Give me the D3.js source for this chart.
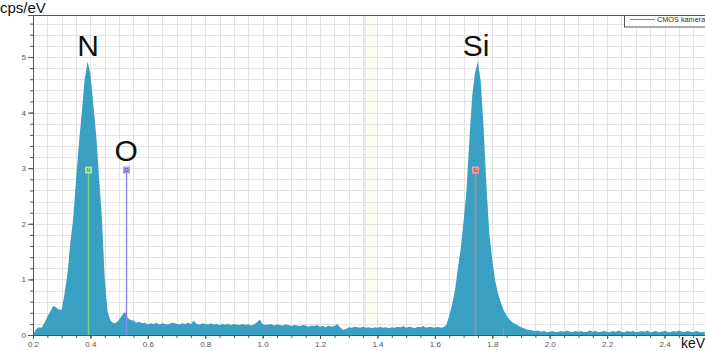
<!DOCTYPE html>
<html>
<head>
<meta charset="utf-8">
<script src="https://cdn.jsdelivr.net/npm/d3@7"></script>
<style>
  html, body { margin: 0; padding: 0; background: #fff; }
  svg { display: block; }
  text { font-family: "Liberation Sans", Arial, sans-serif; }
</style>
</head>
<body>
<div id="chart"></div>
<script>
// spectrum: one value per 0.01 keV channel, starting at 0.20 keV
const startEnergy = 0.2
const channelWidth = 0.01
const counts = [
  0.00, 0.10, 0.14, 0.13, 0.22, 0.33, 0.42, 0.52, 0.50, 0.46, // 0.20
  0.45, 0.75, 1.10, 1.65, 2.10, 2.80, 3.45, 4.00, 4.60, 4.92, // 0.30
  4.70, 4.15, 3.60, 2.85, 2.10, 1.00, 0.42, 0.26, 0.21, 0.22, // 0.40
  0.28, 0.35, 0.42, 0.31, 0.27, 0.26, 0.22, 0.24, 0.21, 0.22, // 0.50
  0.19, 0.21, 0.20, 0.22, 0.19, 0.21, 0.20, 0.19, 0.21, 0.22, // 0.60
  0.20, 0.19, 0.21, 0.20, 0.22, 0.20, 0.26, 0.20, 0.19, 0.21, // 0.70
  0.20, 0.19, 0.21, 0.19, 0.20, 0.18, 0.20, 0.19, 0.20, 0.18, // 0.80
  0.20, 0.19, 0.18, 0.20, 0.18, 0.19, 0.17, 0.19, 0.23, 0.28, // 0.90
  0.20, 0.18, 0.19, 0.20, 0.17, 0.19, 0.18, 0.17, 0.19, 0.18, // 1.00
  0.16, 0.18, 0.17, 0.16, 0.18, 0.17, 0.15, 0.17, 0.16, 0.18, // 1.10
  0.15, 0.16, 0.14, 0.17, 0.15, 0.16, 0.20, 0.14, 0.09, 0.11, // 1.20
  0.14, 0.13, 0.15, 0.14, 0.13, 0.15, 0.13, 0.14, 0.12, 0.14, // 1.30
  0.13, 0.15, 0.13, 0.14, 0.12, 0.14, 0.13, 0.15, 0.14, 0.16, // 1.40
  0.13, 0.15, 0.14, 0.12, 0.15, 0.14, 0.16, 0.13, 0.15, 0.14, // 1.50
  0.13, 0.15, 0.13, 0.14, 0.18, 0.35, 0.55, 0.80, 1.20, 1.55, // 1.60
  2.05, 2.60, 3.50, 4.30, 4.72, 4.92, 4.55, 3.70, 2.65, 1.80, // 1.70
  1.35, 0.98, 0.74, 0.58, 0.44, 0.35, 0.28, 0.23, 0.20, 0.17, // 1.80
  0.14, 0.12, 0.10, 0.09, 0.08, 0.07, 0.08, 0.06, 0.07, 0.05, // 1.90
  0.06, 0.07, 0.05, 0.06, 0.07, 0.06, 0.08, 0.06, 0.05, 0.07, // 2.00
  0.06, 0.07, 0.05, 0.06, 0.08, 0.06, 0.07, 0.05, 0.06, 0.07, // 2.10
  0.06, 0.05, 0.07, 0.06, 0.08, 0.06, 0.05, 0.07, 0.06, 0.07, // 2.20
  0.05, 0.06, 0.07, 0.06, 0.08, 0.05, 0.06, 0.07, 0.05, 0.06, // 2.30
  0.07, 0.06, 0.05, 0.07, 0.06, 0.08, 0.06, 0.05, 0.07, 0.06, // 2.40
  0.05, 0.07, 0.06, 0.05, 0.06                                // 2.50
]

const xTickValues = [0.2, 0.4, 0.6, 0.8, 1.0, 1.2, 1.4, 1.6, 1.8, 2.0, 2.2, 2.4]
const yTickValues = [0, 1, 2, 3, 4, 5]

const elementNames = ['N', 'O', 'Si']
const elementEnergies = [0.392, 0.525, 1.740]
const elementLines = ['#74d874', '#8a8af0', '#e07878']
const elementBoxes = ['#a6e8a0', '#a4a4ee', '#f0a4a4']
const elementText = ['#2c7a2c', '#3c3ca0', '#9a2a2a']
const kBetaEnergies = [1.836] // small Si K-beta marker

const seriesName = 'CMOS kamera'

const width = 705,
  height = 351
const plotLeft = 33,
  plotRight = 705,
  plotTop = 15,
  plotBottom = 335

const x = d3.scaleLinear().domain([0.2, 2.541]).range([plotLeft, plotRight])
const y = d3.scaleLinear().domain([0, 5.755]).range([plotBottom, plotTop])

const svg = d3.select('#chart').append('svg').attr('width', width).attr('height', height)

// faint region marker band
svg.append('rect')
  .attr('x', x(1.357)).attr('y', plotTop)
  .attr('width', x(1.396) - x(1.357)).attr('height', plotBottom - plotTop)
  .attr('fill', '#fdfdf2')
svg.append('line')
  .attr('x1', x(1.357)).attr('x2', x(1.357)).attr('y1', plotTop).attr('y2', plotBottom)
  .attr('stroke', '#e6e6e6').attr('stroke-width', 1.5)

// grid
const grid = svg.append('g').attr('stroke', '#e3e3e3').attr('stroke-width', 1)
grid.selectAll('.gv')
  .data(d3.range(5, 51).map(i => i * 0.05))
  .enter().append('line')
  .attr('x1', d => Math.round(x(d)) + 0.5).attr('x2', d => Math.round(x(d)) + 0.5)
  .attr('y1', plotTop).attr('y2', plotBottom)
grid.selectAll('.gh')
  .data(d3.range(1, 29).map(i => i * 0.2))
  .enter().append('line')
  .attr('x1', plotLeft).attr('x2', plotRight)
  .attr('y1', d => Math.round(y(d)) + 0.5).attr('y2', d => Math.round(y(d)) + 0.5)

// spectrum
const energy = counts.map((_, i) => startEnergy + i * channelWidth)
const area = d3.area()
  .x((d, i) => x(energy[i]))
  .y0(y(0))
  .y1(d => y(d))
svg.append('path')
  .datum(counts)
  .attr('d', area)
  .attr('fill', '#3aa0c3')

// element markers
elementNames.forEach((name, i) => {
  const ex = Math.round(x(elementEnergies[i])) + 0.5
  svg.append('line')
    .attr('x1', ex).attr('x2', ex).attr('y1', 173).attr('y2', plotBottom)
    .attr('stroke', elementLines[i]).attr('stroke-width', 1.4)
  svg.append('rect')
    .attr('x', ex - 3.5).attr('y', 166.5).attr('width', 7).attr('height', 7)
    .attr('fill', elementBoxes[i])
  svg.append('text')
    .attr('x', ex).attr('y', 172.2)
    .attr('text-anchor', 'middle')
    .attr('font-size', 5.5)
    .attr('fill', elementText[i])
    .text(name)
})
kBetaEnergies.forEach(e => {
  const ex = Math.round(x(e)) + 0.5
  svg.append('line')
    .attr('x1', ex).attr('x2', ex).attr('y1', 327).attr('y2', plotBottom)
    .attr('stroke', elementLines[2]).attr('stroke-width', 1.2)
})

// big element labels
const labelY = [56, 161, 56]
const labelDx = [0, 0, 1]
elementNames.forEach((name, i) => {
  svg.append('text')
    .attr('x', x(elementEnergies[i]) + labelDx[i])
    .attr('y', labelY[i])
    .attr('text-anchor', 'middle')
    .attr('font-size', 30)
    .attr('fill', '#111')
    .text(name)
})

// axes
const yMajor = d3.axisLeft(y).tickValues(yTickValues).tickSize(5).tickFormat(d3.format('d'))
const yMinor = d3.axisLeft(y).tickValues(d3.range(0, 29).map(i => i * 0.2)).tickSize(3).tickFormat('')
const xMajor = d3.axisBottom(x).tickValues(xTickValues).tickSize(4).tickFormat(d3.format('.1f'))
const xMinor = d3.axisBottom(x).tickValues(d3.range(4, 51).map(i => i * 0.05)).tickSize(3).tickFormat('')

const styleAxis = g => {
  g.selectAll('path').attr('stroke', '#555')
  g.selectAll('line').attr('stroke', '#555')
  g.selectAll('text').attr('fill', '#555').attr('font-size', 8).style('font-family', '"Liberation Sans", Arial, sans-serif')
}

svg.append('g').attr('transform', `translate(${plotLeft},0)`).call(yMinor).call(styleAxis)
svg.append('g').attr('transform', `translate(${plotLeft},0)`).call(yMajor).call(styleAxis)
  .selectAll('text').attr('x', -7)
svg.append('g').attr('transform', `translate(0,${plotBottom})`).call(xMinor).call(styleAxis)
svg.append('g').attr('transform', `translate(0,${plotBottom})`).call(xMajor).call(styleAxis)
  .selectAll('text').attr('y', 6)

// top frame
svg.append('line')
  .attr('x1', plotLeft).attr('x2', plotRight).attr('y1', plotTop + 0.5).attr('y2', plotTop + 0.5)
  .attr('stroke', '#555')

// axis titles
svg.append('text').attr('x', 0).attr('y', 13).attr('font-size', 15).attr('fill', '#111').text('cps/eV')
svg.append('text').attr('x', 705).attr('y', 348).attr('text-anchor', 'end')
  .attr('font-size', 14).attr('fill', '#111').text('keV')

// legend
const legend = svg.append('g')
legend.append('rect')
  .attr('x', 624.5).attr('y', plotTop + 0.5).attr('width', 90).attr('height', 11.5)
  .attr('fill', '#fff').attr('stroke', '#555')
legend.append('line')
  .attr('x1', 630).attr('x2', 655).attr('y1', 19.5).attr('y2', 19.5)
  .attr('stroke', '#3aa0c3').attr('stroke-width', 1)
legend.append('text')
  .attr('x', 657).attr('y', 22)
  .attr('font-size', 7.3).attr('fill', '#333')
  .text(seriesName)
</script>
</body>
</html>
